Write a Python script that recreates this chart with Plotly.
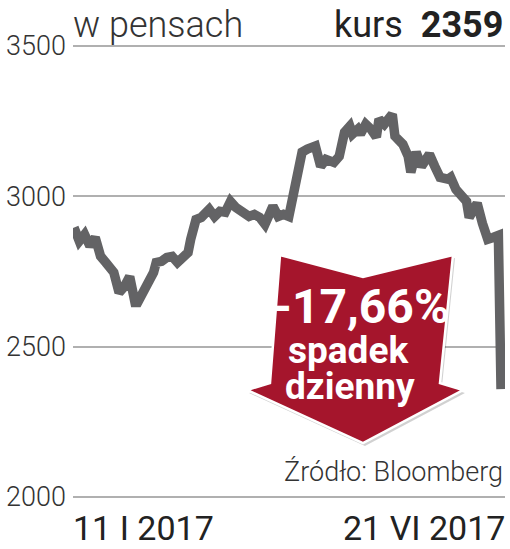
import plotly.graph_objects as go

dates = ["2017-01-11","2017-01-13","2017-01-15","2017-01-17","2017-01-19","2017-01-21",
         "2017-01-23","2017-01-26","2017-01-28","2017-01-30","2017-02-01","2017-02-03",
         "2017-02-04","2017-02-06","2017-02-08","2017-02-10","2017-02-11","2017-02-13",
         "2017-02-15","2017-02-17","2017-02-19","2017-02-21","2017-02-23","2017-02-24",
         "2017-02-26","2017-02-28","2017-03-03","2017-03-05","2017-03-07","2017-03-09",
         "2017-03-11","2017-03-13","2017-03-15","2017-03-18","2017-03-20","2017-03-22",
         "2017-03-24","2017-03-27","2017-03-29","2017-03-31","2017-04-02","2017-04-04",
         "2017-04-05","2017-04-07","2017-04-09","2017-04-12","2017-04-14","2017-04-16",
         "2017-04-19","2017-04-21","2017-04-23","2017-04-25","2017-04-26","2017-04-28",
         "2017-04-29","2017-05-01","2017-05-03","2017-05-05","2017-05-06","2017-05-08",
         "2017-05-11","2017-05-12","2017-05-15","2017-05-17","2017-05-18","2017-05-20",
         "2017-05-22","2017-05-24","2017-05-25","2017-05-27","2017-05-29","2017-06-01",
         "2017-06-02","2017-06-04","2017-06-06","2017-06-08","2017-06-09","2017-06-11",
         "2017-06-12","2017-06-14","2017-06-16","2017-06-18","2017-06-20","2017-06-21"]
prices = [2896,2851,2873,2835,2863,2801,
          2780,2747,2680,2700,2733,2647,
          2647,2680,2723,2747,2780,2784,
          2797,2800,2780,2797,2813,2857,
          2923,2930,2957,2933,2950,2947,
          2983,2963,2947,2933,2940,2930,
          2907,2967,2933,2940,2933,3013,
          3067,3147,3157,3167,3100,3123,
          3113,3133,3213,3233,3207,3223,
          3207,3240,3223,3197,3257,3240,
          3273,3200,3173,3133,3080,3147,
          3100,3123,3140,3100,3063,3057,
          3063,3023,2997,2983,2930,2957,
          2977,2910,2857,2863,2870,2359]

y_ticks = [2000, 2500, 3000, 3500]
x_labels = ["11 I 2017", "21 VI 2017"]
unit_label = "w pensach"
last_price = 2359
change_label = "-17,66%"
change_text = ["spadek", "dzienny"]
source = "Źródło: Bloomberg"

W, H = 510, 549
L, R, T, B = 73, 5, 43, 49
PW, PH = W - L - R, H - T - B

def px(x):
    return (x - L) / PW

def py(y):
    return 1 - (y - T) / PH

FONT = "Roboto"
fig = go.Figure()
fig.add_trace(go.Scatter(
    x=dates, y=prices, mode="lines",
    line=dict(color="#636365", width=9.5, shape="linear"),
    hoverinfo="skip", showlegend=False,
))

# arrow
arrow_pts = [(280, 255), (363, 277), (453, 255), (440, 383), (463, 390),
             (363, 443), (247, 390), (270, 383)]

def path(pts, dx=0, dy=0):
    return "M " + " L ".join(f"{px(a+dx):.4f},{py(b+dy):.4f}" for a, b in pts) + " Z"

fig.add_shape(type="path", xref="paper", yref="paper", path=path(arrow_pts, 2, 3),
              fillcolor="rgba(0,0,0,0.18)", line=dict(width=0), layer="above")
fig.add_shape(type="path", xref="paper", yref="paper", path=path(arrow_pts),
              fillcolor="#a5152c", line=dict(color="white", width=2.5), layer="above")

ann = []
ann.append(dict(x=px(361), y=py(306), text=change_label, font=dict(family=FONT, size=48, color="white", weight="bold")))
ann.append(dict(x=px(348), y=py(350), text=change_text[0], font=dict(family=FONT, size=37, color="white", weight="bold")))
ann.append(dict(x=px(350), y=py(386), text=change_text[1], font=dict(family=FONT, size=37, color="white", weight="bold")))
for a in ann:
    a.update(xref="paper", yref="paper", xanchor="center", yanchor="middle", showarrow=False)

ann.append(dict(x=px(71), y=py(25), xref="paper", yref="paper", xanchor="left", yanchor="middle",
                text=unit_label, showarrow=False,
                font=dict(family=FONT, size=36, color="#333333", weight=300)))
ann.append(dict(x=px(505), y=py(25), xref="paper", yref="paper", xanchor="right", yanchor="middle",
                text="kurs\u00a0 <b>" + str(last_price) + "</b>", showarrow=False,
                font=dict(family=FONT, size=36, color="#222222")))
ann.append(dict(x=px(505), y=py(472), xref="paper", yref="paper", xanchor="right", yanchor="middle",
                text=source, showarrow=False,
                font=dict(family=FONT, size=27, color="#333333", weight=300)))
ann.append(dict(x=px(71), y=py(528), xref="paper", yref="paper", xanchor="left", yanchor="middle",
                text=x_labels[0], showarrow=False,
                font=dict(family=FONT, size=34, color="#222222")))
ann.append(dict(x=px(507), y=py(528), xref="paper", yref="paper", xanchor="right", yanchor="middle",
                text=x_labels[1], showarrow=False,
                font=dict(family=FONT, size=34, color="#222222")))

fig.update_layout(
    width=W, height=H,
    margin=dict(l=L, r=R, t=T, b=B, pad=0),
    paper_bgcolor="white", plot_bgcolor="white",
    showlegend=False,
    annotations=ann,
    xaxis=dict(range=["2017-01-10 15:00", "2017-06-22 12:00"], showgrid=False,
               showticklabels=False, zeroline=False, showline=False, ticks=""),
    yaxis=dict(range=[1990, 3510], tickvals=y_ticks, ticktext=[str(v) for v in y_ticks],
               showgrid=True, gridcolor="#b0b0b0", gridwidth=1.5, zeroline=False,
               showline=False, ticks="", ticklabelstandoff=6,
               tickfont=dict(family=FONT, size=27, color="#333333", weight=300)),
)

fig.write_html("out.html", config={"displayModeBar": False},
               post_script="document.body.style.margin='0';document.body.style.overflow='hidden';")
